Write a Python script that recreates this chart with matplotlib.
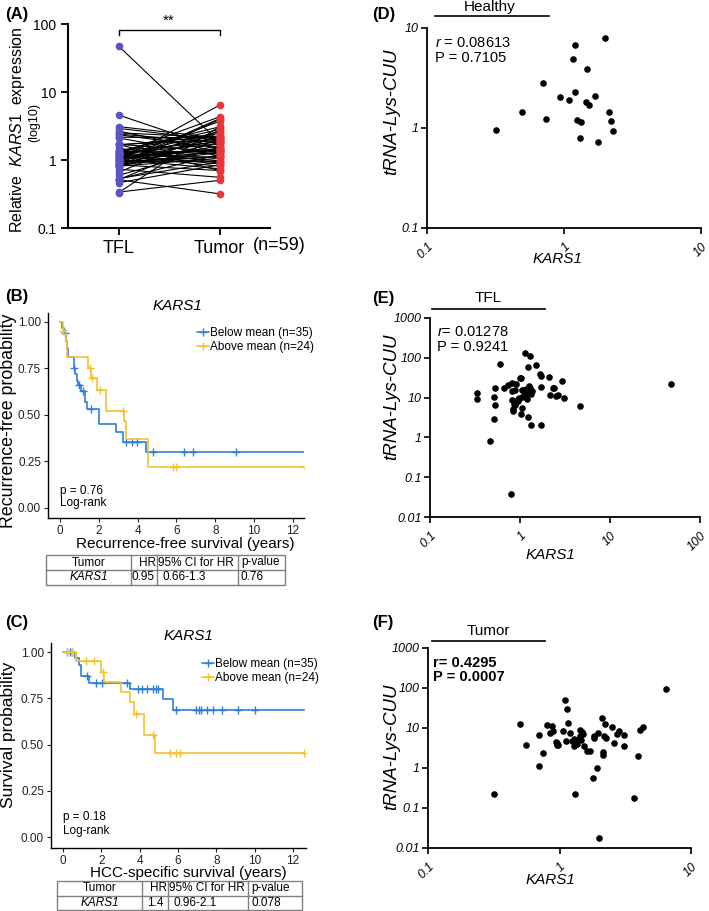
import numpy as np
import matplotlib
matplotlib.use('Agg')
import matplotlib.pyplot as plt
from matplotlib.lines import Line2D
from matplotlib.patches import Rectangle
from matplotlib.ticker import NullLocator

plt.rcParams['font.family'] = ['Liberation Sans', 'DejaVu Sans']
plt.rcParams['mathtext.fontset'] = 'custom'
plt.rcParams['mathtext.rm'] = 'Liberation Sans'
plt.rcParams['mathtext.it'] = 'Liberation Sans:italic'
plt.rcParams['mathtext.bf'] = 'Liberation Sans:bold'

# ---- data ----
# (A) paired KARS1 expression, TFL vs tumor (n=59)
tfl_kars1 = [0.331, 0.337, 0.512, 0.525, 0.533, 0.512, 0.463, 0.595, 0.658, 0.733,
             0.798, 0.811, 0.811, 0.825, 0.846, 0.846, 0.867, 0.882, 0.904, 0.959,
             0.983, 1.0, 1.017, 1.025, 1.043, 1.043, 1.087, 1.134, 1.162, 1.182,
             1.212, 1.233, 1.254, 1.285, 1.307, 1.34, 1.34, 1.375, 1.495, 1.652,
             1.694, 1.694, 1.694, 2.107, 2.161, 2.35, 2.41, 2.51, 2.66, 2.92,
             3.1, 4.59, 47.5, 0.95, 1.1, 1.2, 0.87, 1.05, 1.3]
tumor_kars1 = [3.11, 0.502, 0.318, 1.206, 0.938, 2.10, 0.849, 1.541, 2.73, 0.557,
               1.815, 1.06, 3.95, 1.395, 0.700, 2.228, 1.137, 4.06, 1.616, 0.954,
               6.41, 2.50, 1.30, 0.743, 3.70, 1.924, 1.479, 2.61, 0.81, 2.163,
               1.092, 4.31, 1.711, 0.971, 2.81, 1.241, 3.07, 1.835, 0.900, 2.265,
               1.339, 0.700, 1.982, 1.151, 2.125, 1.506, 1.795, 2.138, 1.316, 1.946,
               2.10, 1.45, 1.836, 1.124, 1.42, 0.874, 1.278, 1.437, 1.355]

# (B) recurrence-free survival, Kaplan-Meier steps
rfs_below_t = [0, 0.1, 0.2, 0.3, 0.38, 0.43, 0.7, 0.75, 0.85, 0.95, 1.1, 1.3, 1.4, 2.01, 2.87, 3.23, 4.42]
rfs_below_s = [1.0, 0.97, 0.94, 0.90, 0.86, 0.81, 0.75, 0.72, 0.68, 0.66, 0.63, 0.57, 0.53, 0.45, 0.41, 0.353, 0.303]
rfs_below_cens = [0.26, 0.72, 0.97, 1.2, 1.58, 3.4, 3.69, 3.95, 4.78, 6.39, 6.84, 9.07]
rfs_above_t = [0, 0.17, 0.3, 0.37, 1.45, 1.6, 1.9, 2.35, 3.28, 3.38, 4.55]
rfs_above_s = [1.0, 0.95, 0.89, 0.81, 0.75, 0.70, 0.635, 0.52, 0.47, 0.37, 0.22]
rfs_above_cens = [0.17, 1.55, 1.65, 2.06, 3.25, 5.8, 5.95, 12.6]

# (C) HCC-specific survival
css_below_t = [0, 0.6, 0.82, 0.96, 1.36, 3.5, 5.2, 5.74]
css_below_s = [1.0, 0.97, 0.93, 0.87, 0.835, 0.80, 0.745, 0.685]
css_below_cens = [0.23, 0.35, 0.45, 1.25, 1.7, 2.05, 3.36, 3.9, 4.1, 4.4, 4.7, 4.85, 4.95,
                  5.9, 6.96, 7.1, 7.2, 7.5, 7.85, 8.3, 9.15, 10.0]
css_above_t = [0, 0.7, 1.97, 2.15, 3.0, 3.48, 3.7, 4.23, 4.78]
css_above_s = [1.0, 0.95, 0.89, 0.84, 0.785, 0.73, 0.665, 0.55, 0.455]
css_above_cens = [0.2, 0.45, 1.18, 1.62, 2.1, 3.83, 4.7, 5.6, 5.9, 6.1, 12.6]

# (D) healthy: KARS1 vs tRNA-Lys-CUU
healthy_x = [0.318, 0.495, 0.70, 0.743, 0.933, 1.09, 1.16, 1.20, 1.20, 1.24, 1.30,
             1.34, 1.45, 1.48, 1.53, 1.67, 1.78, 2.00, 2.13, 2.19, 2.29]
healthy_y = [0.95, 1.44, 2.85, 1.24, 2.02, 1.91, 4.92, 6.75, 2.30, 1.19, 0.79,
             1.16, 1.84, 3.88, 1.69, 2.10, 0.73, 7.88, 1.44, 1.18, 0.93]

# (E) TFL
tfl_x = tfl_kars1
tfl_y = [13.1, 9.08, 10.6, 17.2, 6.66, 2.96, 0.81, 67.9, 17.9, 20.5,
         0.037, 14.7, 8.91, 23.4, 5.08, 4.52, 7.06, 6.41, 22.5, 8.24,
         10.0, 31.3, 3.88, 31.9, 15.9, 5.49, 15.3, 134, 16.9, 9.43,
         3.26, 59.3, 19.3, 112, 17.5, 12.6, 2.01, 14.7, 65.3, 38.7,
         18.6, 34.5, 2.01, 33.2, 11.9, 17.9, 17.9, 10.8, 11.5, 25.8,
         9.8, 6.29, 22.1, 9.0, 14.0, 12.0, 15.5, 10.5, 14.0]

# (F) tumor
tum_x = [0.318, 0.502, 0.557, 0.700, 0.700, 0.743, 0.810, 0.849, 0.874, 0.900,
         0.938, 0.954, 0.954, 0.971, 1.060, 1.092, 1.124, 1.137, 1.151, 1.206,
         1.241, 1.278, 1.300, 1.316, 1.339, 1.355, 1.395, 1.420, 1.437, 1.479,
         1.506, 1.541, 1.616, 1.711, 1.795, 1.815, 1.836, 1.924, 1.946, 1.982,
         2.10, 2.125, 2.138, 2.163, 2.228, 2.265, 2.50, 2.61, 2.73, 2.81,
         3.11, 3.07, 3.70, 3.95, 4.06, 4.31, 6.41, 1.35, 1.45]
tum_y = [0.223, 12.7, 3.85, 6.86, 1.14, 2.42, 12.0, 7.41, 11.3, 8.64,
         4.58, 3.85, 4.15, 3.85, 8.2, 50.8, 4.85, 29.6, 13.2, 7.70,
         4.85, 5.34, 3.63, 0.223, 4.40, 4.00, 5.34, 8.98, 6.47, 7.85,
         7.13, 3.63, 2.62, 2.62, 0.55, 5.66, 6.35, 1.0, 7.70, 0.0175,
         17.9, 2.47, 2.16, 6.23, 12.7, 5.66, 10.9, 4.15, 7.13, 8.32,
         6.73, 3.50, 0.177, 2.04, 9.16, 10.5, 95.9, 4.6, 5.0]

blue_dot = '#5A55C0'
red_dot = '#E8363C'
km_blue = '#2F7ED8'
km_yellow = '#F2C230'

W, H = 709, 911
fig = plt.figure(figsize=(W / 100, H / 100), dpi=100)


def box(l, t, r, b):
    return fig.add_axes([l / W, 1 - b / H, (r - l) / W, (b - t) / H])


def ftext(x, y, s, **kw):
    kw.setdefault('va', 'center')
    return fig.text(x / W, 1 - y / H, s, **kw)


def fline(x0, x1, y, **kw):
    fig.add_artist(Line2D([x0 / W, x1 / W], [1 - y / H, 1 - y / H],
                          transform=fig.transFigure, color='black', **kw))


# ---- (A) ----
ax = box(68, 24, 270, 228)
ax.set_yscale('log')
ax.set_ylim(0.1, 100)
ax.set_xlim(-0.5, 1.5)
for a, b in zip(tfl_kars1, tumor_kars1):
    ax.plot([0, 1], [a, b], color='black', lw=0.8, zorder=2)
ax.plot(np.zeros(len(tfl_kars1)), tfl_kars1, 'o', color=blue_dot, ms=4.5, zorder=3)
ax.plot(np.ones(len(tumor_kars1)), tumor_kars1, 'o', color=red_dot, ms=4.5, zorder=3)
ax.yaxis.set_minor_locator(NullLocator())
ax.set_yticks([0.1, 1, 10, 100])
ax.set_yticklabels(['0.1', '1', '10', '100'], fontsize=10)
ax.set_xticks([0, 1])
ax.set_xticklabels(['TFL', 'Tumor'], fontsize=13)
ax.tick_params(length=5, width=1.3)
for sp in ['top', 'right']:
    ax.spines[sp].set_visible(False)
for sp in ['left', 'bottom']:
    ax.spines[sp].set_linewidth(1.5)
ax.plot([0, 0, 1, 1], [70, 82, 82, 70], color='black', lw=1, clip_on=False)
ax.text(0.5, 88, '**', ha='center', va='bottom', fontsize=11)
ftext(253, 245, '(n=59)', fontsize=13, ha='left')
ftext(5, 14, '(A)', fontsize=12, fontweight='bold')
ftext(18, 130, r'Relative  $\it{KARS1}$  expression', fontsize=11.5, rotation=90, ha='center')
ftext(34, 122, '(log10)', fontsize=9, rotation=90, ha='center')


# ---- Kaplan-Meier panels ----
def km(ax, t, s, cens, color, tmax=12.6):
    ax.step(list(t) + [tmax], list(s) + [s[-1]], where='post', color=color, lw=1.2)
    idx = np.searchsorted(t, cens, side='right') - 1
    ax.plot(cens, np.array(s)[idx], '+', color=color, ms=6, mew=1.0)


def km_axes(ax, xlim, ylim):
    ax.set_xlim(*xlim)
    ax.set_ylim(*ylim)
    ax.set_xticks([0, 2, 4, 6, 8, 10, 12])
    ax.set_yticks([0, 0.25, 0.5, 0.75, 1.0])
    ax.set_yticklabels(['0.00', '0.25', '0.50', '0.75', '1.00'])
    ax.tick_params(length=3, width=0.8, labelsize=8.5, colors='#222222', pad=2)
    for sp in ['top', 'right']:
        ax.spines[sp].set_visible(False)
    for sp in ['left', 'bottom']:
        ax.spines[sp].set_linewidth(1.0)


def km_legend(ax, x, y):
    h = [Line2D([], [], color=km_blue, marker='+', lw=1.1, ms=6),
         Line2D([], [], color=km_yellow, marker='+', lw=1.1, ms=6)]
    ax.legend(h, ['Below mean (n=35)', 'Above mean (n=24)'], loc='upper left',
              bbox_to_anchor=(x / W, 1 - y / H), bbox_transform=fig.transFigure,
              frameon=False, handlelength=1.0, handletextpad=0.1, labelspacing=0.15,
              fontsize=8.5, borderpad=0, borderaxespad=0)


def hr_table(l, t, r, b, cols, mid, hr, ci, pv, hr_x, ci_x):
    tb = box(l, t, r, b)
    tb.set_xlim(l, r)
    tb.set_ylim(b, t)
    tb.axis('off')
    g = '#808080'
    tb.add_patch(Rectangle((l, t), r - l, b - t, fill=False, ec=g, lw=1, clip_on=False))
    for c in cols:
        tb.plot([c, c], [t, b], color=g, lw=1, clip_on=False)
    tb.plot([l, r], [mid, mid], color=g, lw=1, clip_on=False)
    y1, y2 = (t + mid) / 2, (mid + b) / 2
    fs = 8.5
    tb.text((l + cols[0]) / 2, y1, 'Tumor', ha='center', va='center', fontsize=fs)
    tb.text(cols[1] - 1, y1, 'HR', ha='right', va='center', fontsize=fs)
    tb.text(cols[1] + 1, y1, '95% CI for HR', ha='left', va='center', fontsize=fs)
    tb.text(cols[2] + 3, y1, 'p-value', ha='left', va='center', fontsize=fs)
    tb.text((l + cols[0]) / 2, y2, 'KARS1', ha='center', va='center', fontsize=fs, fontstyle='italic')
    tb.text(hr_x, y2, hr, ha='left', va='center', fontsize=fs)
    tb.text(ci_x, y2, ci, ha='left', va='center', fontsize=fs)
    tb.text(cols[2] + 3, y2, pv, ha='left', va='center', fontsize=fs)


# (B)
ax = box(48, 313, 304, 518)
km(ax, rfs_below_t, rfs_below_s, rfs_below_cens, km_blue)
km(ax, rfs_above_t, rfs_above_s, rfs_above_cens, km_yellow)
km_axes(ax, (-0.62, 12.57), (-0.054, 1.048))
km_legend(ax, 197, 327)
ftext(5, 296, '(B)', fontsize=12, fontweight='bold')
ftext(177, 306, 'KARS1', fontsize=11, fontstyle='italic', ha='center')
ftext(9, 421, 'Recurrence-free probability', fontsize=12.8, rotation=90, ha='center')
ftext(185, 544, 'Recurrence-free survival (years)', fontsize=11, ha='center')
ftext(60, 491, 'p = 0.76', fontsize=8.5, ha='left')
ftext(60, 503, 'Log-rank', fontsize=8.5, ha='left')
hr_table(46, 555, 285, 585, [131, 157, 238], 570, '0.95', '0.66-1.3', '0.76', 132, 163)

# (C)
ax = box(51, 643, 306, 848)
km(ax, css_below_t, css_below_s, css_below_cens, km_blue)
km(ax, css_above_t, css_above_s, css_above_cens, km_yellow)
km_axes(ax, (-0.63, 12.68), (-0.059, 1.049))
km_legend(ax, 202, 658)
ftext(5, 622, '(C)', fontsize=12, fontweight='bold')
ftext(188, 636, 'KARS1', fontsize=11, fontstyle='italic', ha='center')
ftext(9, 735, 'Survival probability', fontsize=12.5, rotation=90, ha='center')
ftext(188, 873, 'HCC-specific survival (years)', fontsize=11, ha='center')
ftext(63, 817, 'p = 0.18', fontsize=8.5, ha='left')
ftext(63, 831, 'Log-rank', fontsize=8.5, ha='left')
hr_table(57, 881, 302, 910, [142, 168, 248], 896, '1.4', '0.96-2.1', '0.078', 147, 173)


# ---- scatter panels ----
def scatter_axes(ax, xt, xl, yt, yl):
    ax.set_xscale('log')
    ax.set_yscale('log')
    ax.set_xlim(xt[0], xt[-1])
    ax.set_ylim(yt[0], yt[-1])
    ax.xaxis.set_minor_locator(NullLocator())
    ax.yaxis.set_minor_locator(NullLocator())
    ax.set_xticks(xt)
    ax.set_xticklabels(xl, rotation=45, ha='right', rotation_mode='anchor',
                       fontstyle='italic', fontsize=9)
    ax.set_yticks(yt)
    ax.set_yticklabels(yl, fontstyle='italic', fontsize=9)
    ax.tick_params(length=4, width=1.2, pad=2)
    ax.tick_params(axis='x', pad=5)
    for sp in ['top', 'right']:
        ax.spines[sp].set_visible(False)
    for sp in ['left', 'bottom']:
        ax.spines[sp].set_linewidth(1.3)


# (D)
ax = box(427, 28, 701, 228)
ax.scatter(healthy_x, healthy_y, s=14, color='black', zorder=3)
scatter_axes(ax, [0.1, 1, 10], ['0.1', '1', '10'], [0.1, 1, 10], ['0.1', '1', '10'])
ftext(372, 15, '(D)', fontsize=12, fontweight='bold')
ftext(490, 7, 'Healthy', fontsize=11, ha='center')
fline(435, 549, 16, lw=1.2)
ftext(435, 43, r'$\it{r}$ = 0.08613', fontsize=10.5, ha='left')
ftext(435, 58, 'P = 0.7105', fontsize=10.5, ha='left')
ftext(392, 112, 'tRNA-Lys-CUU', fontsize=13.5, fontstyle='italic', rotation=90, ha='center')
ftext(557, 259, 'KARS1', fontsize=11, fontstyle='italic', ha='center')

# (E)
ax = box(430, 318, 700, 517)
ax.scatter(tfl_x, tfl_y, s=14, color='black', zorder=3)
scatter_axes(ax, [0.1, 1, 10, 100], ['0.1', '1', '10', '100'],
             [0.01, 0.1, 1, 10, 100, 1000], ['0.01', '0.1', '1', '10', '100', '1000'])
ftext(372, 298, '(E)', fontsize=12, fontweight='bold')
ftext(488, 298, 'TFL', fontsize=11, ha='center')
fline(432, 545, 309, lw=1.2)
ftext(437, 332, r'$\it{r}$= 0.01278', fontsize=10.5, ha='left')
ftext(437, 347, 'P = 0.9241', fontsize=10.5, ha='left')
ftext(392, 397, 'tRNA-Lys-CUU', fontsize=13.5, fontstyle='italic', rotation=90, ha='center')
ftext(550, 555, 'KARS1', fontsize=11, fontstyle='italic', ha='center')

# (F)
ax = box(428, 648, 691, 848)
ax.scatter(tum_x, tum_y, s=14, color='black', zorder=3)
scatter_axes(ax, [0.1, 1, 10], ['0.1', '1', '10'],
             [0.01, 0.1, 1, 10, 100, 1000], ['0.01', '0.1', '1', '10', '100', '1000'])
ftext(372, 622, '(F)', fontsize=12, fontweight='bold')
ftext(488, 631, 'Tumor', fontsize=11, ha='center')
fline(432, 545, 641, lw=1.2)
ftext(433, 663, 'r= 0.4295', fontsize=10.5, fontweight='bold', ha='left')
ftext(433, 677, 'P = 0.0007', fontsize=10.5, fontweight='bold', ha='left')
ftext(392, 747, 'tRNA-Lys-CUU', fontsize=13.5, fontstyle='italic', rotation=90, ha='center')
ftext(550, 880, 'KARS1', fontsize=11, fontstyle='italic', ha='center')

fig.savefig('out.png', dpi=100)
